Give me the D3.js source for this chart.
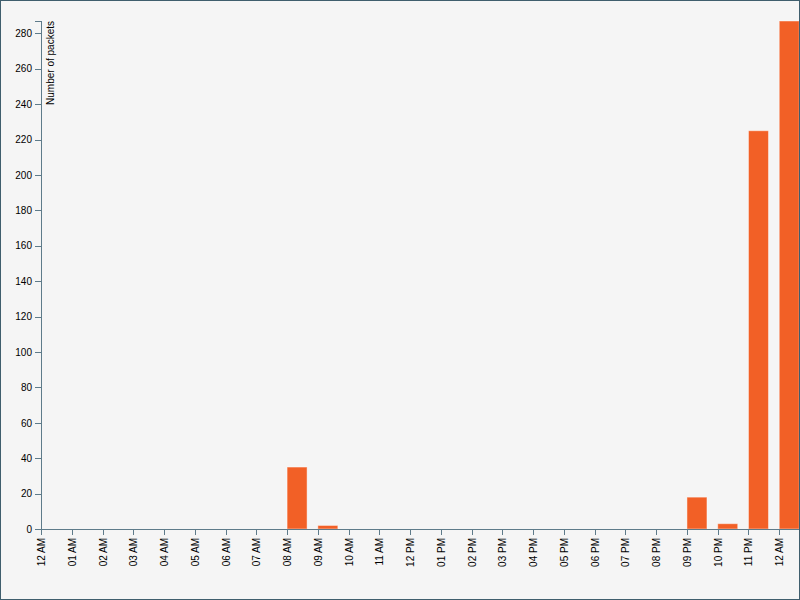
<!DOCTYPE html>
<html>
<head>
<meta charset="utf-8">
<script src="https://cdn.jsdelivr.net/npm/d3@7"></script>
<style>
  html, body { margin: 0; padding: 0; background: #f5f5f5; }
  svg { display: block; font-family: "Liberation Sans", Arial, Helvetica, sans-serif; }
  .axis path, .axis line { fill: none; stroke: #5e7b8a; shape-rendering: crispEdges; }
  .axis text { fill: #000; font-size: 10px; }
</style>
</head>
<body>
<script>
// Hour offsets from midnight (0 = 12 AM, 24 = next 12 AM)
const hours = [0,1,2,3,4,5,6,7,8,9,10,11,12,13,14,15,16,17,18,19,20,21,22,23,24];
const packets = [0,0,0,0,0,0,0,0,35,2,0,0,0,0,0,0,0,0,0,0,0,18,3,225,287];
const yMax = 287;
const yTicks = [0,20,40,60,80,100,120,140,160,180,200,220,240,260,280];
const yLabel = "Number of packets";

const W = 800, H = 600;
const margin = {top: 21, left: 41, bottom: 71};
const innerH = H - margin.top - margin.bottom;
const hourPx = 30.76;

const base = new Date(2014, 0, 1, 0, 0, 0);
const dates = hours.map(h => d3.timeHour.offset(base, h));
const data = dates.map((d, i) => ({date: d, value: packets[i]}));

const x = d3.scaleTime()
  .domain([base, d3.timeHour.offset(base, 25)])
  .range([0, 25 * hourPx]);
const y = d3.scaleLinear().domain([0, yMax]).range([innerH, 0]);

const svg = d3.select("body").append("svg").attr("width", W).attr("height", H);
svg.append("rect").attr("width", W).attr("height", H).attr("fill", "#f5f5f5");

const g = svg.append("g").attr("transform", `translate(${margin.left},${margin.top})`);

g.selectAll("rect.bar").data(data).enter().append("rect")
  .attr("class", "bar")
  .attr("x", d => x(d.date))
  .attr("width", 20)
  .attr("y", d => y(d.value))
  .attr("height", d => innerH - y(d.value))
  .attr("fill", "#f26026")
  .attr("stroke", "#ffffff")
  .attr("stroke-opacity", 0.45)
  .attr("stroke-width", 1);

const xAxis = g.append("g").attr("class", "axis")
  .attr("transform", `translate(0,${innerH})`)
  .call(d3.axisBottom(x).tickValues(dates).tickFormat(d3.timeFormat("%I %p")));
xAxis.selectAll("text")
  .attr("transform", "rotate(-90)")
  .attr("x", -9)
  .attr("y", 0)
  .attr("dy", ".35em")
  .style("text-anchor", "end");

const yAxis = g.append("g").attr("class", "axis")
  .call(d3.axisLeft(y).tickValues(yTicks));
yAxis.append("text")
  .attr("transform", "rotate(-90)")
  .attr("y", 6)
  .attr("dy", ".71em")
  .style("text-anchor", "end")
  .text(yLabel);

svg.append("rect")
  .attr("x", 0.5).attr("y", 0.5).attr("width", W - 1).attr("height", H - 1)
  .attr("fill", "none").attr("stroke", "#3f5e6d").attr("stroke-width", 1);
</script>
</body>
</html>
